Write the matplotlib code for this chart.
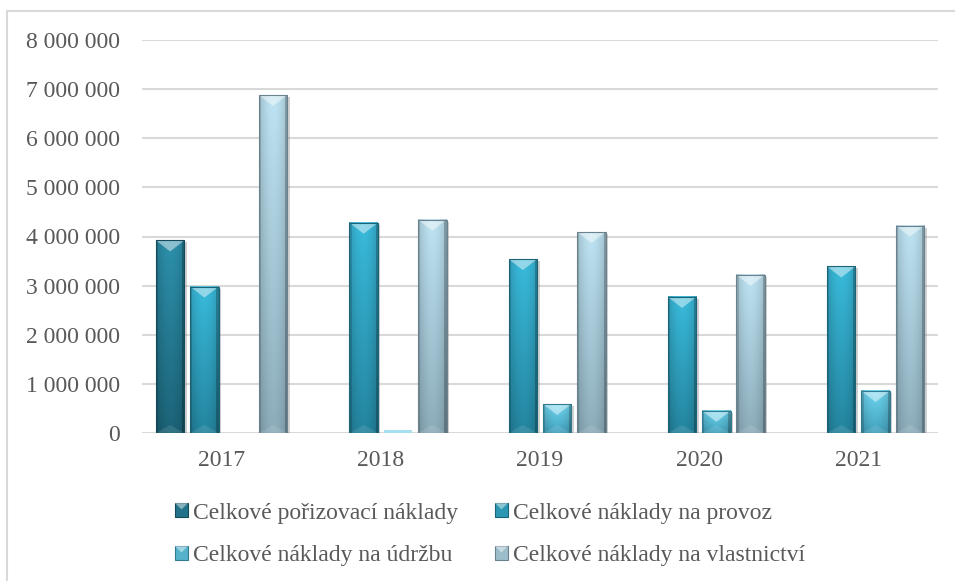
import numpy as np
import matplotlib.pyplot as plt
from matplotlib.patches import Patch, Polygon, Rectangle
from matplotlib.legend_handler import HandlerBase

plt.rcParams['font.family'] = ['Liberation Serif', 'DejaVu Serif']

years = ['2017', '2018', '2019', '2020', '2021']
porizovaci = [3920000, 0, 0, 0, 0]
provoz = [2980000, 4280000, 3540000, 2770000, 3390000]
udrzba = [0, 60000, 590000, 450000, 855000]
vlastnictvi = [6880000, 4340000, 4090000, 3220000, 4220000]
series_names = ['Celkové pořizovací náklady', 'Celkové náklady na provoz',
                'Celkové náklady na údržbu', 'Celkové náklady na vlastnictví']
yticks = [0, 1000000, 2000000, 3000000, 4000000, 5000000, 6000000, 7000000, 8000000]

# (top colour, bottom colour) for each series
shades = [('#2a88a2', '#1a5d70'),
          ('#36b0cf', '#227d96'),
          ('#6acbe4', '#3e98b2'),
          ('#b3d6e4', '#85a3b1')]

text_col = '#595959'
grid_col = '#d9d9d9'

fig = plt.figure(figsize=(9.55, 5.81), dpi=100)
ax = fig.add_axes([142 / 955, 1 - 433 / 581, 796 / 955, 393 / 581])

x = np.arange(len(years))
step = 0.2155
width = 0.179
ax.set_xlim(-0.5, len(years) - 0.5)
ax.set_ylim(0, 8000000)

# pixel -> data scale factors
p0 = ax.transData.transform((0, 0))
p1 = ax.transData.transform((1, 1000000))
x_per_px = 1 / (p1[0] - p0[0])
y_per_px = 1000000 / (p1[1] - p0[1])


def hex_rgb(c):
    c = c.lstrip('#')
    return np.array([int(c[i:i + 2], 16) / 255 for i in (0, 2, 4)])


def fancy_bars(rects, top, bottom):
    top_c, bot_c = hex_rgb(top), hex_rgb(bottom)
    t = np.linspace(0, 1, 80)[:, None, None]
    u = np.linspace(0, 1, 24)[None, :, None]
    img = bot_c + t * (top_c - bot_c)
    img = img * (0.9 + 0.16 * np.sin(np.pi * u))
    img = np.clip(img, 0, 1)
    for r in rects:
        h = r.get_height()
        if h <= 0:
            continue
        x0, w = r.get_x(), r.get_width()
        x1, xc = x0 + w, x0 + w / 2
        if h < 6 * y_per_px:
            # too thin for the bevel, just a light sliver
            ax.add_patch(Rectangle((x0, 0), w, h, color=top_c * 0.6 + 0.4,
                                   lw=0, zorder=3))
            continue
        # soft shadow to the right
        ax.add_patch(Rectangle((x0 + 2.5 * x_per_px, 0), w, h - 2 * y_per_px,
                               color='#7f7f7f', alpha=0.35, lw=0, zorder=2))
        ax.imshow(img, extent=[x0, x1, 0, h], origin='lower', aspect='auto',
                  interpolation='bilinear', zorder=3)
        d = min(11 * y_per_px, h)
        ax.add_patch(Polygon([(x0, h), (x1, h), (xc, h - d)], closed=True,
                             color='white', alpha=0.45, lw=0, zorder=4))
        db = min(8 * y_per_px, h)
        ax.add_patch(Polygon([(x0, 0), (x1, 0), (xc, db)], closed=True,
                             color='white', alpha=0.1, lw=0, zorder=4))
        sw = 2.2 * x_per_px
        ax.add_patch(Rectangle((x0, 0), sw, h, color='black', alpha=0.14,
                               lw=0, zorder=4))
        ax.add_patch(Rectangle((x1 - sw, 0), sw, h, color='black', alpha=0.22,
                               lw=0, zorder=4))
        ax.add_patch(Rectangle((x0, 0), w, h, fill=False, ec=bot_c * 0.8,
                               lw=0.8, zorder=5))


all_series = [porizovaci, provoz, udrzba, vlastnictvi]
for i, vals in enumerate(all_series):
    rects = ax.bar(x + (i - 1.5) * step, vals, width, color='none',
                   lw=0, zorder=2)
    fancy_bars(rects, *shades[i])

ax.set_xlim(-0.5, len(years) - 0.5)
ax.set_ylim(0, 8000000)

ax.set_yticks(yticks)
ax.set_yticklabels([f'{v:,}'.replace(',', ' ') for v in yticks])
ax.set_xticks(x)
ax.set_xticklabels(years)
ax.tick_params(axis='both', length=0, labelsize=17, labelcolor=text_col)
ax.tick_params(axis='y', pad=16)
ax.tick_params(axis='x', pad=12)
ax.grid(axis='y', color=grid_col, lw=1.5, zorder=0)
ax.set_axisbelow(True)
for s in ax.spines.values():
    s.set_visible(False)

# chart area border
fig.patches.append(Rectangle((7 / 955, -0.1), 1.2, 1 - 11 / 581 + 0.1,
                             transform=fig.transFigure, fill=False,
                             ec=grid_col, lw=1.5))


class BevelSquare(HandlerBase):
    def create_artists(self, legend, orig, xd, yd, w, h, fontsize, trans):
        fc = orig.get_facecolor()
        ec = orig.get_edgecolor()
        sq = Rectangle((-xd, -yd), w, h, fc=fc, ec=ec, lw=0.8, transform=trans)
        tri = Polygon([(-xd, -yd + h), (-xd + w, -yd + h),
                       (-xd + w / 2, -yd + h * 0.55)], closed=True,
                      color='white', alpha=0.45, lw=0, transform=trans)
        return [sq, tri]


handles = [Patch(facecolor=np.clip((hex_rgb(a) + hex_rgb(b)) / 2, 0, 1),
                 edgecolor=hex_rgb(b) * 0.8)
           for a, b in shades]

# legend laid out as a 2 x 2 grid, one entry per cell
col_x = [175, 495]
row_y = [513, 556]
for k, (h, name) in enumerate(zip(handles, series_names)):
    leg = fig.legend([h], [name], loc='center left',
                     bbox_to_anchor=(col_x[k % 2] / 955, 1 - row_y[k // 2] / 581),
                     frameon=False, fontsize=17, labelcolor=text_col,
                     handlelength=0.55, handleheight=0.55, handletextpad=0.2,
                     borderpad=0, borderaxespad=0,
                     handler_map={Patch: BevelSquare()})

fig.savefig('out.png', dpi=100)
